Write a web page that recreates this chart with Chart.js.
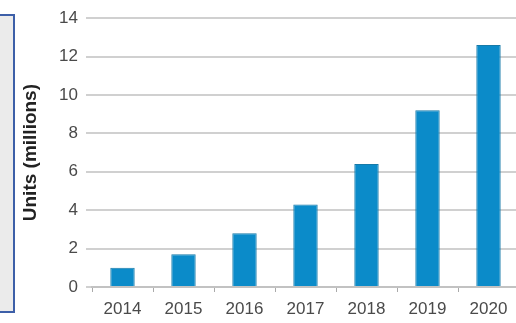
<!DOCTYPE html>
<html>
<head>
<meta charset="utf-8">
<script src="https://cdn.jsdelivr.net/npm/chart.js@4/dist/chart.umd.min.js"></script>
<style>
  html, body { margin: 0; padding: 0; background: #fff; overflow: hidden; }
  #wrap { position: relative; width: 516px; height: 323px; overflow: hidden; }
  #side { position: absolute; left: -6px; top: 14px; width: 17px; height: 295px;
          background: #ebebeb; border: 2px solid #3d5fa8; }
  canvas { position: absolute; left: 0; top: 0; }
</style>
</head>
<body>
<div id="wrap">
  <canvas id="chart" width="520" height="323"></canvas>
  <div id="side"></div>
</div>
<script>
const years = ['2014', '2015', '2016', '2017', '2018', '2019', '2020'];
const units = [1.0, 1.7, 2.8, 4.3, 6.4, 9.2, 12.6];
const yMin = 0;
const yMax = 14;
const yStep = 2;
const yTitle = 'Units (millions)';

const font = '"Liberation Sans", Arial, sans-serif';

new Chart(document.getElementById('chart'), {
  type: 'bar',
  data: {
    labels: years,
    datasets: [{
      label: yTitle,
      data: units,
      backgroundColor: '#0b8bc9',
      borderColor: '#177aa8',
      borderWidth: 1,
      categoryPercentage: 1,
      barPercentage: 0.4,
    }],
  },
  options: {
    responsive: false,
    animation: false,
    layout: { padding: { top: 17, left: 15, right: 1, bottom: 0 } },
    plugins: {
      legend: { display: false },
      tooltip: { enabled: false },
    },
    scales: {
      x: {
        grid: {
          offset: true,
          drawOnChartArea: false,
          drawTicks: true,
          tickLength: 5,
          color: '#aaaaaa',
        },
        border: { display: true, color: '#c2c2c2', width: 2 },
        ticks: {
          color: '#4a4a4a',
          padding: 7,
          font: { family: font, size: 17 },
          maxRotation: 0,
        },
        afterFit: (scale) => { scale.height = 36; },
      },
      y: {
        min: yMin,
        max: yMax,
        grid: { color: '#d0d0d0', lineWidth: 2, tickLength: 6 },
        border: { display: false },
        ticks: {
          stepSize: yStep,
          color: '#4a4a4a',
          padding: 8,
          font: { family: font, size: 17 },
        },
        title: {
          display: true,
          text: yTitle,
          color: '#222',
          font: { family: font, size: 19, weight: 'bold' },
        },
        afterFit: (scale) => { scale.width = 77; },
      },
    },
  },
});
</script>
</body>
</html>
